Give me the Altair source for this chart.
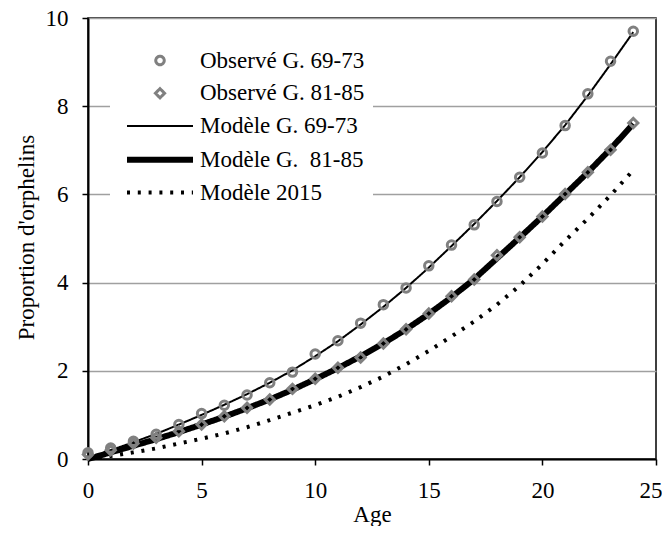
import altair as alt
import pandas as pd

# ---- data ----
ages = list(range(25))

series_names = [
    "Observé G. 69-73",
    "Observé G. 81-85",
    "Modèle G. 69-73",
    "Modèle G.\u00a0 81-85",
    "Modèle 2015",
]

obs_69_73 = [0.14, 0.25, 0.40, 0.56, 0.78, 1.03, 1.22, 1.45, 1.73, 1.97, 2.38, 2.68, 3.08,
             3.50, 3.88, 4.38, 4.85, 5.31, 5.84, 6.39, 6.94, 7.56, 8.28, 9.02, 9.70]
obs_81_85 = [0.10, 0.20, 0.35, 0.48, 0.63, 0.78, 0.97, 1.16, 1.35, 1.59, 1.82, 2.07, 2.30,
             2.62, 2.94, 3.30, 3.69, 4.07, 4.62, 5.03, 5.50, 6.01, 6.50, 7.01, 7.62]
mod_69_73 = [0.00, 0.20, 0.38, 0.57, 0.78, 1.00, 1.23, 1.47, 1.73, 2.01, 2.33, 2.67, 3.05,
             3.45, 3.88, 4.34, 4.83, 5.33, 5.85, 6.39, 6.96, 7.57, 8.24, 8.95, 9.68]
mod_81_85 = [0.00, 0.15, 0.30, 0.45, 0.61, 0.78, 0.96, 1.15, 1.35, 1.57, 1.81, 2.06, 2.33,
             2.62, 2.94, 3.29, 3.67, 4.08, 4.55, 5.02, 5.50, 6.00, 6.50, 7.03, 7.60]
mod_2015 = [0.00, 0.07, 0.15, 0.24, 0.35, 0.46, 0.58, 0.72, 0.88, 1.05, 1.22, 1.41, 1.63,
            1.87, 2.15, 2.45, 2.78, 3.12, 3.50, 3.93, 4.42, 4.95, 5.45, 5.98, 6.55]

x_ticks = [0, 5, 10, 15, 20, 25]
y_ticks = [0, 2, 4, 6, 8, 10]

series_values = [obs_69_73, obs_81_85, mod_69_73, mod_81_85, mod_2015]
series_kind = ["obs", "obs", "model", "model", "model"]

rows = []
for name, kind, vals in zip(series_names, series_kind, series_values):
    for a, v in zip(ages, vals):
        rows.append({"series": name, "kind": kind, "age": a, "value": v})
df = pd.DataFrame(rows)

# ---- styles ----
FONT = "Liberation Serif"
GRAY = "#808080"
LINE_SYM = "M-6,0H6"
colors = [GRAY, GRAY, "black", "black", "black"]
shapes = ["circle", "diamond", LINE_SYM, LINE_SYM, LINE_SYM]
sizes = [72, 85, 121, 121, 121]
widths = [3, 3, 2, 6, 4]
dashes = [[1, 0], [1, 0], [1, 0], [1, 0], [3, 7.8]]

legend = alt.Legend(
    title=None,
    orient="none",
    legendX=22,
    legendY=23,
    fillColor="white",
    padding=8,
    labelFont=FONT,
    labelFontSize=23,
    labelColor="black",
    labelLimit=0,
    symbolOffset=30.5,
    labelOffset=28.5,
    rowPadding=8.75,
    symbolFillColor="transparent",
)

x_enc = alt.X(
    "age:Q", scale=alt.Scale(domain=[0, 25], nice=False, zero=False),
    axis=alt.Axis(
        values=x_ticks, grid=False, title="Age", titleY=62, titleBaseline="alphabetic",
        labelFlush=False, labelOverlap=False,
        labelAlign={"condition": {"test": "datum.value == 25", "value": "right"}, "value": "center"},
        labelOffset={"condition": {"test": "datum.value == 25", "value": 6}, "value": 0},
    ),
)
y_enc = alt.Y(
    "value:Q", scale=alt.Scale(domain=[0, 10], nice=False),
    axis=alt.Axis(
        values=y_ticks, grid=True, gridColor="#a0a0a0", gridWidth=1.3,
        title="Proportion d'orphelins", titleX=-55, titleY=219, titleBaseline="alphabetic",
        labelFlush=False, labelOverlap=False,
    ),
)

stroke_enc = alt.Stroke("series:N", scale=alt.Scale(domain=series_names, range=colors), legend=legend)

base = alt.Chart(df).encode(x=x_enc, y=y_enc)

lines = base.transform_filter(alt.datum.kind == "model").mark_line(
    strokeCap="butt", strokeJoin="round"
).encode(
    stroke=stroke_enc,
    strokeWidth=alt.StrokeWidth("series:N", scale=alt.Scale(type="ordinal", domain=series_names, range=widths), legend=legend),
    strokeDash=alt.StrokeDash("series:N", scale=alt.Scale(domain=series_names, range=dashes), legend=legend),
    order="age:Q",
)

points = base.transform_filter(alt.datum.kind == "obs").mark_point(
    filled=False, strokeWidth=3, opacity=1
).encode(
    stroke=stroke_enc,
    shape=alt.Shape("series:N", scale=alt.Scale(domain=series_names, range=shapes), legend=legend),
    size=alt.Size("series:N", scale=alt.Scale(type="ordinal", domain=series_names, range=sizes), legend=legend),
)

chart = alt.layer(lines, points).properties(
    width=568,
    height=441,
    autosize=alt.AutoSizeParams(type="none"),
    padding={"left": 80, "top": 10, "right": 6, "bottom": 67},
).configure_view(
    stroke="black", strokeWidth=1.5
).configure_axis(
    labelFont=FONT, titleFont=FONT, labelFontSize=23, titleFontSize=23,
    titleFontWeight="normal", labelColor="black", titleColor="black",
    domainColor="black", domainWidth=2, tickColor="black", tickWidth=1.5,
    tickSize=6, labelPadding=14,
)

chart.save("out.html", embed_options={"renderer": "svg", "actions": False})
